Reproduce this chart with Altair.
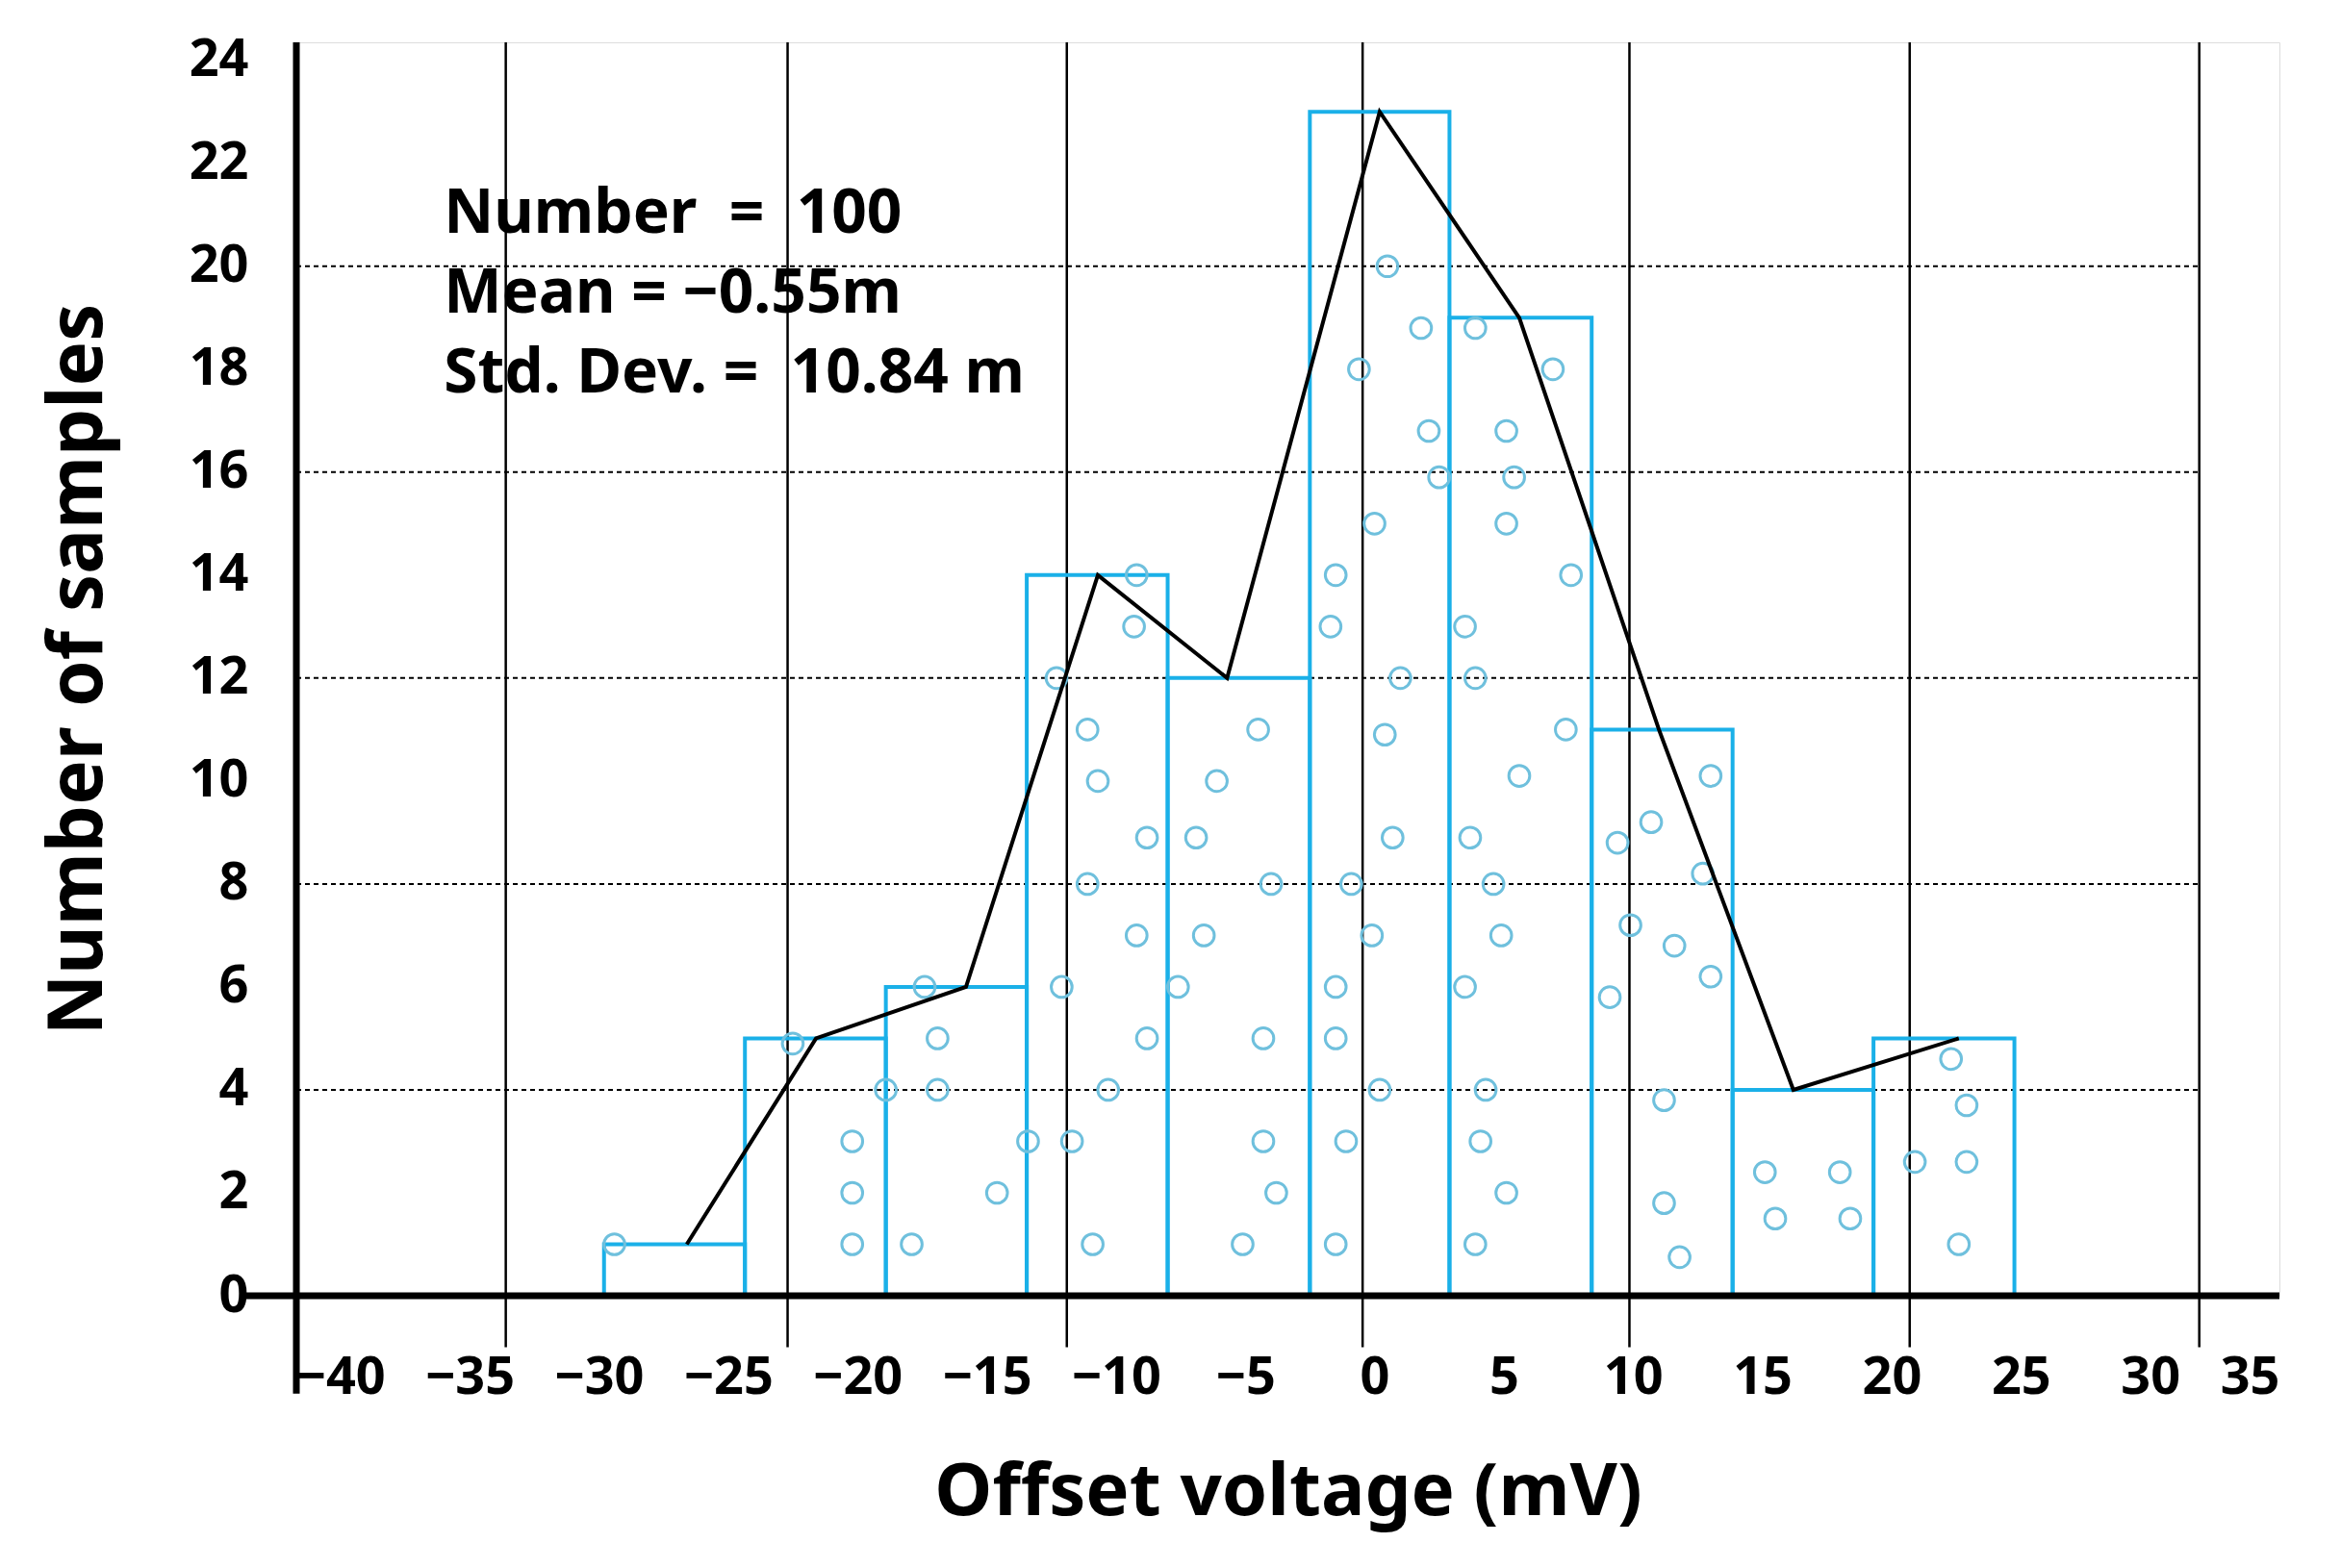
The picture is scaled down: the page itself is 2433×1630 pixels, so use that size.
import altair as alt
import pandas as pd

# histogram bins (edges) and counts
bin_left = [-29.8, -24.35, -18.9, -13.45, -8.0, -2.5, 2.9, 8.4, 13.85, 19.3]
bin_right = [-24.35, -18.9, -13.45, -8.0, -2.5, 2.9, 8.4, 13.85, 19.3, 24.75]
counts = [1, 5, 6, 14, 12, 23, 19, 11, 4, 5]

# polyline through bin tops
line_x = [-26.6, -21.6, -15.8, -10.7, -5.7, 0.2, 5.6, 11.0, 16.2, 22.6]
line_y = [1, 5, 6, 14, 12, 23, 19, 11, 4, 5]

# individual samples (hollow circles)
pts_x = [-29.4, -22.5, -20.2, -20.2, -20.2, -18.9, -17.9, -17.4, -16.9, -16.9, -14.6, -13.4,
         -12.1, -12.3, -11.7, -11.1, -10.9, -10.7, -11.1, -10.3, -9.2, -9.3, -9.2, -8.8, -8.8,
         -7.6, -6.9, -6.6, -6.1, -5.1, -4.5, -4.3, -4.3, -4.0, -3.8,
         -1.5, -1.5, -1.5, -1.7, -1.5, -1.1, -0.9, -0.6, -0.1, 0.0, 0.2, 0.4, 0.7, 0.5, 1.0, 1.8, 2.1, 2.5,
         3.5, 3.5, 3.7, 3.9, 3.9, 3.9, 4.1, 4.3, 4.6, 4.9, 5.1, 5.1, 5.1, 5.4, 5.6, 6.9, 7.4, 7.6,
         9.1, 9.4, 9.9, 10.7, 11.2, 11.2, 11.6, 11.8, 12.7, 13.0, 13.0,
         15.1, 15.5, 18.0, 18.4,
         20.9, 22.6, 22.3, 22.9, 22.9]
pts_y = [1, 4.9, 3, 2, 1, 4, 1, 6, 5, 4, 2, 3,
         6, 12, 3, 11, 1, 10, 8, 4, 14, 13, 7, 8.9, 5,
         6, 8.9, 7, 10, 1, 11, 5, 3, 8, 2,
         1, 5, 6, 13, 14, 3, 8, 18, 7, 15, 4, 10.9, 8.9, 20, 12, 18.8, 16.8, 15.9,
         13, 6, 8.9, 1, 12, 18.8, 3, 4, 8, 7, 2, 15, 16.8, 15.9, 10.1, 18, 11, 14,
         5.8, 8.8, 7.2, 9.2, 3.8, 1.8, 6.8, 0.75, 8.2, 6.2, 10.1,
         2.4, 1.5, 2.4, 1.5,
         2.6, 1, 4.6, 3.7, 2.6]

vlines = [-33.6, -22.7, -11.9, -0.46, 9.86, 20.7, 31.9]
hgrid = [4, 8, 12, 16, 20]
NB = "\u00a0"
notes = ["Number" + NB + " = " + NB + "100", "Mean = \u22120.55m", "Std. Dev. = " + NB + "10.84 m"]
notes_y = [21.0, 19.45, 17.9]

FONT = "Noto Sans"
XD = [-41.7, 35]
YD = [0, 24.35]

bars = pd.DataFrame({"l": bin_left, "r": bin_right, "c": counts, "z": 0})
line = pd.DataFrame({"x": line_x, "y": line_y})
pts = pd.DataFrame({"x": pts_x, "y": pts_y})
vl = pd.DataFrame({"x": vlines, "y": -1.0, "y2": 24.35})
hg = pd.DataFrame({"y": hgrid, "x": -41.7, "x2": 31.9})
nt = pd.DataFrame({"t": notes, "y": notes_y, "x": -36.0})

xs = alt.Scale(domain=XD, nice=False, zero=False)
ys = alt.Scale(domain=YD, nice=False, zero=False)

base_x = alt.X("x:Q", scale=xs, title="Offset voltage (mV)",
               axis=alt.Axis(values=list(range(-40, 40, 5)), grid=False, domain=False, ticks=False,
                             labelFontSize=54, labelFontWeight="bold", labelFont=FONT, labelColor="black",
                             labelPadding=58, titleFontSize=76, titleFont=FONT, titleFontWeight="bold",
                             titlePadding=55, titleColor="black"))
base_y = alt.Y("y:Q", scale=ys, title="Number of samples",
               axis=alt.Axis(values=list(range(0, 25, 2)), grid=False, domain=False, ticks=False,
                             labelFontSize=54, labelFontWeight="bold", labelFont=FONT, labelColor="black",
                             labelPadding=50, titleFontSize=78, titleFont=FONT, titleFontWeight="bold",
                             titlePadding=75, titleColor="black"))

grid = alt.Chart(hg).mark_rule(color="black", strokeWidth=2, strokeDash=[5, 4]).encode(
    x=base_x, x2="x2:Q", y=base_y)
verts = alt.Chart(vl).mark_rule(color="black", strokeWidth=2.5).encode(
    x=alt.X("x:Q", scale=xs), y=alt.Y("y:Q", scale=ys), y2="y2:Q")
rects = alt.Chart(bars).mark_rect(fill=None, stroke="#1ab0e8", strokeWidth=4).encode(
    x=alt.X("l:Q", scale=xs), x2="r:Q", y=alt.Y("c:Q", scale=ys), y2="z:Q")
dots = alt.Chart(pts).mark_point(shape="circle", filled=False, color="#6fc0dd", size=470,
                                 strokeWidth=3, opacity=1).encode(
    x=alt.X("x:Q", scale=xs), y=alt.Y("y:Q", scale=ys))
poly = alt.Chart(line).mark_line(color="black", strokeWidth=4).encode(
    x=alt.X("x:Q", scale=xs), y=alt.Y("y:Q", scale=ys))
yaxis = alt.Chart(pd.DataFrame({"x": [-41.7], "y": [-1.9], "y2": [24.35]})).mark_rule(
    color="black", strokeWidth=7).encode(x=alt.X("x:Q", scale=xs), y=alt.Y("y:Q", scale=ys), y2="y2:Q")
xaxis = alt.Chart(pd.DataFrame({"x": [-43.8], "x2": [35], "y": [0]})).mark_rule(
    color="black", strokeWidth=7).encode(x=alt.X("x:Q", scale=xs), x2="x2:Q", y=alt.Y("y:Q", scale=ys))
text = alt.Chart(nt).mark_text(align="left", baseline="middle", fontSize=64, fontWeight="bold",
                               font=FONT, color="black").encode(
    x=alt.X("x:Q", scale=xs), y=alt.Y("y:Q", scale=ys), text="t:N")

chart = alt.layer(grid, verts, rects, dots, poly, yaxis, xaxis, text).properties(
    width=2061, height=1303,
    autosize=alt.AutoSizeParams(type="none"),
    padding={"left": 300, "top": 36, "right": 50, "bottom": 260},
).configure_view(stroke=None).configure(background="white")

chart.save("out.html", embed_options={"renderer": "svg", "actions": False})
